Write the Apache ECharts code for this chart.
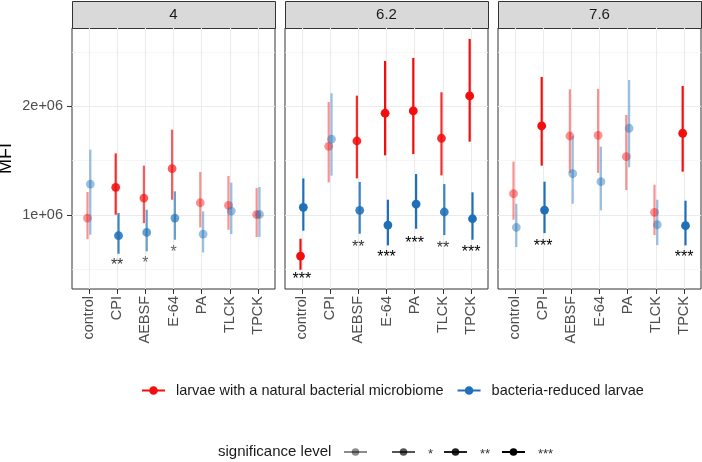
<!DOCTYPE html>
<html>
<head>
<meta charset="utf-8">
<script src="https://cdn.jsdelivr.net/npm/echarts@6/dist/echarts.min.js"></script>
<style>
  html, body { margin: 0; padding: 0; background: #fff; }
  #main { width: 702px; height: 462px; }
</style>
</head>
<body>
<div id="main"></div>
<script>
var myChart = echarts.init(document.getElementById('main'));

// facets (pH) and treatments
var panels = ['4', '6.2', '7.6'];
var categories = ['control', 'CPI', 'AEBSF', 'E-64', 'PA', 'TLCK', 'TPCK'];

// MFI in millions, one row per panel
var naturalMean = [
  [0.972, 1.255, 1.156, 1.426, 1.113, 1.089, 1.003],
  [0.623, 1.632, 1.681, 1.936, 1.957, 1.706, 2.095],
  [1.196, 1.819, 1.727, 1.733, 1.537, 1.025, 1.752]
];
var naturalLow = [
  [0.779, 1.003, 0.926, 1.141, 0.887, 0.865, 0.798],
  [0.497, 1.301, 1.337, 1.549, 1.561, 1.365, 1.675],
  [0.957, 1.454, 1.387, 1.387, 1.230, 0.816, 1.399]
];
var naturalHigh = [
  [1.212, 1.567, 1.454, 1.785, 1.396, 1.359, 1.248],
  [0.782, 2.040, 2.098, 2.417, 2.445, 2.129, 2.620],
  [1.491, 2.270, 2.156, 2.160, 1.920, 1.279, 2.187]
];
var reducedMean = [
  [1.285, 0.810, 0.840, 0.972, 0.825, 1.037, 1.006],
  [1.071, 1.699, 1.043, 0.908, 1.101, 1.028, 0.966],
  [0.887, 1.046, 1.380, 1.307, 1.798, 0.911, 0.902]
];
var reducedLow = [
  [0.819, 0.644, 0.666, 0.773, 0.656, 0.825, 0.798],
  [0.856, 1.362, 0.828, 0.721, 0.874, 0.816, 0.773],
  [0.706, 0.834, 1.104, 1.043, 1.439, 0.724, 0.721]
];
var reducedHigh = [
  [1.601, 1.018, 1.049, 1.218, 1.034, 1.298, 1.258],
  [1.337, 2.120, 1.304, 1.141, 1.377, 1.285, 1.209],
  [1.104, 1.307, 1.724, 1.629, 2.242, 1.141, 1.132]
];
// significance level index: 0 = ns, 1 = *, 2 = **, 3 = ***
var significance = [
  [0, 2, 1, 1, 0, 0, 0],
  [3, 0, 2, 3, 3, 2, 3],
  [0, 3, 0, 0, 0, 0, 3]
];
var sigLabels = ['', '*', '**', '***'];
var sigAlpha = [0.45, 0.67, 0.87, 1];
var sigText = ['#888', '#666', '#333', '#000'];

var yTicks = [1e6, 2e6];
var yMinor = [0.5e6, 1.5e6, 2.5e6];

var nameNatural = 'larvae with a natural bacterial microbiome';
var nameReduced = 'bacteria-reduced larvae';
var RED = '#F30D0D';
var BLUE = '#1F70B8';
var FONT = '"Liberation Sans", Arial, sans-serif';

var panelLeft = [72, 285, 498];
var panelWidth = 203;
var panelTop = 28;
var panelHeight = 261;

function renderRange(params, api) {
    var x = api.value(0);
    var p = api.coord([x, api.value(1)]);
    var lo = api.coord([x, api.value(2)]);
    var hi = api.coord([x, api.value(3)]);
    var a = api.value(4);
    var color = api.visual('color');
    return {
        type: 'group',
        children: [
            {type: 'line', shape: {x1: lo[0], y1: lo[1], x2: hi[0], y2: hi[1]},
             style: {stroke: color, lineWidth: 2.2, opacity: a}},
            {type: 'circle', shape: {cx: p[0], cy: p[1], r: 4.4},
             style: {fill: color, opacity: a}}
        ]
    };
}

function renderStars(params, api) {
    var p = api.coord([api.value(0), api.value(1)]);
    var s = api.value(2);
    return {
        type: 'text',
        x: p[0], y: p[1] + 4,
        style: {
            text: sigLabels[s], fill: sigText[s],
            font: '16px ' + FONT,
            align: 'center', verticalAlign: 'middle'
        }
    };
}

var grids = [], xAxes = [], yAxes = [], series = [], graphics = [];

panels.forEach(function (panel, i) {
    grids.push({
        left: panelLeft[i], top: panelTop, width: panelWidth, height: panelHeight,
        show: true, borderColor: '#333', borderWidth: 1, backgroundColor: 'transparent',
        outerBoundsMode: 'none', containLabel: false
    });
    xAxes.push({
        type: 'value', gridIndex: i, min: -0.6, max: 6.6,
        axisLine: {show: false, onZero: false},
        axisTick: {show: true, customValues: [0, 1, 2, 3, 4, 5, 6], length: 5, lineStyle: {color: '#333'}},
        axisLabel: {
            customValues: [0, 1, 2, 3, 4, 5, 6], rotate: 90, margin: 7,
            fontSize: 14.5, color: '#4d4d4d', fontFamily: FONT,
            formatter: function (v) { return categories[Math.round(v)]; }
        },
        splitLine: {show: true, lineStyle: {color: '#ebebeb', width: 1.1}}
    });
    yAxes.push({
        type: 'value', gridIndex: i, min: 0.32e6, max: 2.72e6,
        name: i === 0 ? 'MFI' : '', nameLocation: 'middle', nameGap: 57, nameMoveOverlap: false,
        nameTextStyle: {fontSize: 18, color: '#000', fontFamily: FONT},
        axisLine: {show: false, onZero: false},
        axisTick: {show: i === 0, customValues: yTicks, length: 5, lineStyle: {color: '#333'}},
        axisLabel: {
            show: i === 0, customValues: yTicks, margin: 9,
            fontSize: 14.5, color: '#4d4d4d', fontFamily: FONT,
            formatter: function (v) { return (v / 1e6) + 'e+06'; }
        },
        splitLine: {show: true, lineStyle: {color: '#ebebeb', width: 1.1}}
    });
    yAxes.push({
        type: 'value', gridIndex: i, min: 0.32e6, max: 2.72e6,
        axisLine: {show: false, onZero: false},
        axisTick: {show: false, customValues: yMinor},
        axisLabel: {show: false, customValues: yMinor},
        splitLine: {show: true, lineStyle: {color: '#f2f2f2', width: 0.7}}
    });

    var natData = [], redData = [], starData = [];
    categories.forEach(function (c, k) {
        var a = sigAlpha[significance[i][k]];
        natData.push([k - 0.05, naturalMean[i][k] * 1e6, naturalLow[i][k] * 1e6, naturalHigh[i][k] * 1e6, a]);
        redData.push([k + 0.05, reducedMean[i][k] * 1e6, reducedLow[i][k] * 1e6, reducedHigh[i][k] * 1e6, a]);
        if (significance[i][k] > 0) {
            starData.push([k, Math.min(naturalLow[i][k], reducedLow[i][k]) * 0.89 * 1e6, significance[i][k]]);
        }
    });
    series.push({
        name: nameNatural, type: 'custom', xAxisIndex: i, yAxisIndex: 2 * i,
        renderItem: renderRange, itemStyle: {color: RED}, data: natData, z: 3
    });
    series.push({
        name: nameReduced, type: 'custom', xAxisIndex: i, yAxisIndex: 2 * i,
        renderItem: renderRange, itemStyle: {color: BLUE}, data: redData, z: 4
    });
    series.push({
        name: 'stars' + i, type: 'custom', xAxisIndex: i, yAxisIndex: 2 * i,
        renderItem: renderStars, data: starData, z: 5
    });

    // facet strip
    graphics.push({
        type: 'rect', left: panelLeft[i], top: 1,
        shape: {width: panelWidth, height: panelTop - 1},
        style: {fill: '#d9d9d9', stroke: '#333', lineWidth: 1}
    });
    graphics.push({
        type: 'text', x: panelLeft[i] + panelWidth / 2, y: 15,
        style: {text: panel, fill: '#1a1a1a', font: '15px ' + FONT,
                align: 'center', verticalAlign: 'middle'}
    });
});

// significance level legend
var sigIconX = [344, 392, 444, 502];
graphics.push({
    type: 'text', x: 218, y: 452,
    style: {text: 'significance level', fill: '#1a1a1a',
            font: '15px ' + FONT, verticalAlign: 'middle'}
});
sigLabels.forEach(function (lab, s) {
    var x0 = sigIconX[s];
    var col = 'rgba(0,0,0,' + sigAlpha[s] + ')';
    graphics.push({type: 'line', shape: {x1: x0, y1: 452, x2: x0 + 23, y2: 452},
                   style: {stroke: col, lineWidth: 2}});
    graphics.push({type: 'circle', shape: {cx: x0 + 11.5, cy: 452, r: 3.8}, style: {fill: col}});
    if (lab) {
        graphics.push({
            type: 'text', x: x0 + 36, y: 454,
            style: {text: lab, fill: '#333', font: '13px ' + FONT, verticalAlign: 'middle'}
        });
    }
});

var option = {
    animation: false,
    backgroundColor: '#fff',
    grid: grids,
    xAxis: xAxes,
    yAxis: yAxes,
    legend: {
        data: [nameNatural, nameReduced],
        left: 137, top: 378,
        itemWidth: 23, itemHeight: 9, itemGap: 14,
        icon: 'path://M0,3.5h24v2H0z M7.5,4.5a4.5,4.5 0 1,1 9,0a4.5,4.5 0 1,1 -9,0z',
        textStyle: {fontSize: 14.5, color: '#1a1a1a', fontFamily: FONT, padding: [0, 0, 0, 6]},
        selectedMode: false
    },
    graphic: graphics,
    series: series
};

myChart.setOption(option);
</script>
</body>
</html>
